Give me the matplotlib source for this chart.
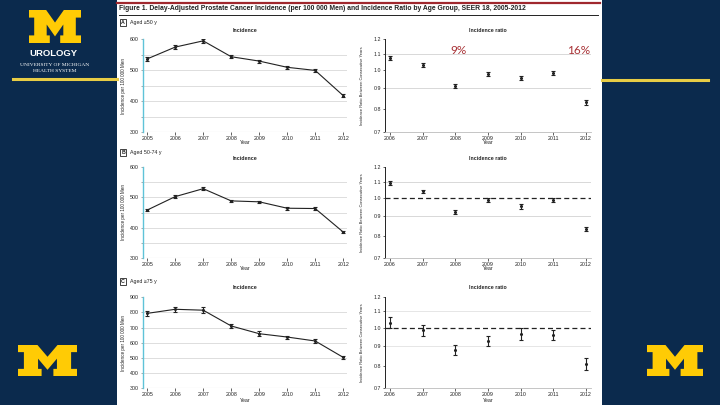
import matplotlib
matplotlib.use("Agg")
import matplotlib.pyplot as plt
from matplotlib.patches import Rectangle, Polygon
from matplotlib.lines import Line2D
from matplotlib.ticker import FixedLocator, NullLocator, FixedFormatter

# ---------------- data ----------------
years = [2005, 2006, 2007, 2008, 2009, 2010, 2011, 2012]
ratio_years = [2006, 2007, 2008, 2009, 2010, 2011, 2012]

inc_A = [536, 574, 594, 543, 529, 509, 499, 418]
inc_err_A = [6, 6, 6, 5, 5, 5, 5, 5]
ratio_A = [1.075, 1.032, 0.914, 0.977, 0.958, 0.984, 0.830]
ratio_err_A = [0.012, 0.012, 0.011, 0.011, 0.011, 0.011, 0.011]

inc_B = [458, 502, 528, 488, 485, 464, 463, 386]
inc_err_B = [4, 4, 4, 4, 4, 5, 4, 3]
ratio_B = [1.092, 1.040, 0.920, 0.990, 0.952, 0.990, 0.832]
ratio_err_B = [0.013, 0.012, 0.011, 0.011, 0.012, 0.011, 0.011]

inc_C = [794, 821, 815, 711, 660, 638, 612, 504]
inc_err_C = [18, 18, 20, 15, 15, 10, 14, 10]
ratio_C = [1.030, 0.986, 0.877, 0.926, 0.964, 0.958, 0.808]
ratio_err_C = [0.034, 0.032, 0.026, 0.029, 0.032, 0.029, 0.030]

panel_letters = ["A", "B", "C"]
panel_names = ["Aged \u226550 y", "Aged 50-74 y", "Aged \u226575 y"]
drop_labels = ["9%", "16%"]
drop_label_x = [2008.1, 2011.78]

title = ("Figure 1. Delay-Adjusted Prostate Cancer Incidence (per 100 000 Men) "
         "and Incidence Ratio by Age Group, SEER 18, 2005-2012")

# ---------------- figure ----------------
NAVY = "#0B2A4D"
GOLD = "#FFCB05"
W, H = 720, 405
fig = plt.figure(figsize=(7.2, 4.05), dpi=100, facecolor=NAVY)
FONT = ["Liberation Sans", "DejaVu Sans"]


def fx(x):
    return x / W


def fy(y):
    return 1 - y / H


# white panel
fig.patches.append(Rectangle((fx(117), 0), (602 - 117) / W, 1, transform=fig.transFigure,
                             facecolor="white", edgecolor="none", zorder=-5))
# top red rule and black rule
fig.add_artist(Line2D([fx(117), fx(600)], [fy(2.5), fy(2.5)], color="#A0282E", lw=1.6))
fig.add_artist(Line2D([fx(119), fx(598)], [fy(14.5), fy(14.5)], color="#222222", lw=0.7))
fig.text(fx(119), fy(8.5), title, fontsize=4.85, fontweight="bold", family=FONT,
         ha="left", va="center", color="#222222")

# gold rules on the sides
fig.add_artist(Line2D([fx(13), fx(117)], [fy(79), fy(79)], color="#E8CC45", lw=2.2))
fig.add_artist(Line2D([fx(602), fx(708)], [fy(80), fy(80)], color="#E8CC45", lw=2.2))

# block M logos
M_shape = [(0, 1), (0.33, 1), (0.5, 0.62), (0.67, 1), (1, 1), (1, 0.77), (0.9, 0.77),
           (0.9, 0.23), (1, 0.23), (1, 0), (0.6, 0), (0.6, 0.23), (0.66, 0.23),
           (0.66, 0.56), (0.5, 0.2), (0.34, 0.56), (0.34, 0.23), (0.4, 0.23), (0.4, 0),
           (0, 0), (0, 0.23), (0.1, 0.23), (0.1, 0.77), (0, 0.77)]


def block_m(x0, y0, x1, y1):
    pts = [(fx(x0 + u * (x1 - x0)), fy(y1 - v * (y1 - y0))) for u, v in M_shape]
    fig.patches.append(Polygon(pts, closed=True, transform=fig.transFigure,
                               facecolor=GOLD, edgecolor="none", zorder=-4))


block_m(29, 10, 81, 43)
block_m(18, 345, 77, 376)
block_m(647, 345, 703, 376)
fig.text(fx(53), fy(54), "UROLOGY", fontsize=6.8, fontweight="bold", color="white",
         family=FONT, ha="center", va="center")
fig.text(fx(55), fy(65), "UNIVERSITY OF MICHIGAN", fontsize=3.9, color="white",
         family=["Liberation Serif", "DejaVu Serif"], ha="center", va="center")
fig.text(fx(55), fy(71.5), "HEALTH SYSTEM", fontsize=3.9, color="white",
         family=["Liberation Serif", "DejaVu Serif"], ha="center", va="center")

# ---------------- axes layout ----------------
left_x0, left_w = 143, 204.4
right_x0, right_w = 385.1, 205.8
rows = [  # (top_left, bottom_left, top_right, bottom_right)
    (39.0, 132.3, 39.0, 131.7),
    (166.7, 258.3, 167.3, 258.3),
    (297.3, 388.3, 296.7, 388.3),
]
inc_data = [(inc_A, inc_err_A), (inc_B, inc_err_B), (inc_C, inc_err_C)]
ratio_data = [(ratio_A, ratio_err_A), (ratio_B, ratio_err_B), (ratio_C, ratio_err_C)]
ylims = [(300, 600), (300, 600), (300, 900)]
label_rows = [22.5, 152.5, 281.5]
sub_title_rows = [30, 158.3, 287.3]
year_rows = [142.5, 268.5, 401]

TICK_FS = 3.8
DARK = "#222222"
GRID = "#d8d8d8"

for i in range(3):
    tl, bl, tr, br = rows[i]
    # --- incidence ---
    ax = fig.add_axes([fx(left_x0), fy(bl), left_w / W, (bl - tl) / H])
    vals, errs = inc_data[i]
    lo, hi = ylims[i]
    step = 50 if hi - lo <= 300 else 100
    minor = list(range(lo, hi + 1, step))
    ax.set_ylim(lo, hi)
    ax.set_xlim(2004.85, 2012.15)
    for v in minor:
        if v not in (lo, hi):
            ax.axhline(v, color=GRID, lw=0.6, zorder=0)
    ax.axhline(lo, color=GRID, lw=0.8, zorder=0)
    ax.errorbar(years, vals, yerr=errs, fmt="-", color=DARK, lw=0.8,
                elinewidth=0.8, capsize=1.6, capthick=0.8, zorder=3)
    ax.plot(years, vals, "o", color=DARK, ms=1.2, zorder=4)
    ax.yaxis.set_major_locator(FixedLocator(minor))
    ax.yaxis.set_major_formatter(FixedFormatter([str(v) if v % 100 == 0 else "" for v in minor]))
    ax.set_xticks(years)
    ax.set_xticklabels([str(y) for y in years])
    for s in ("top", "right"):
        ax.spines[s].set_visible(False)
    ax.spines["bottom"].set_visible(False)
    ax.spines["left"].set_color("#5fc3d8")
    ax.spines["left"].set_linewidth(1.0)
    ax.tick_params(axis="both", labelsize=TICK_FS, length=1.8, width=0.5,
                   colors=DARK, pad=1.2)
    ax.tick_params(axis="y", colors="#888888", labelcolor=DARK)
    for lab in ax.get_xticklabels() + ax.get_yticklabels():
        lab.set_family(FONT)
    ax.patch.set_alpha(0)
    fig.text(fx(123), fy((tl + bl) / 2), "Incidence per 100 000 Men", rotation=90,
             fontsize=3.3, family=FONT, ha="center", va="center", color=DARK)
    fig.text(fx(245), fy(sub_title_rows[i]), "Incidence", fontsize=3.8, fontweight="bold",
             family=FONT, ha="center", va="center", color=DARK)
    fig.text(fx(245), fy(year_rows[i]), "Year", fontsize=3.8,
             family=FONT, ha="center", va="center", color=DARK)
    fig.text(fx(488), fy(year_rows[i]), "Year", fontsize=3.8,
             family=FONT, ha="center", va="center", color=DARK)

    # panel label
    fig.text(fx(123), fy(label_rows[i]), panel_letters[i], fontsize=3.8, fontweight="bold",
             family=FONT, ha="center", va="center", color=DARK,
             bbox=dict(boxstyle="square,pad=0.25", facecolor="white", edgecolor=DARK, lw=0.6))
    fig.text(fx(130), fy(label_rows[i]), panel_names[i], fontsize=3.8,
             family=FONT, ha="left", va="center", color=DARK)

    # --- ratio ---
    ax2 = fig.add_axes([fx(right_x0), fy(br), right_w / W, (br - tr) / H])
    rv, re = ratio_data[i]
    ax2.set_yscale("log")
    ax2.set_ylim(0.7, 1.2)
    ax2.set_xlim(2005.85, 2012.15)
    if i == 0:
        for g in (1.1, 0.9):
            ax2.axhline(g, color=GRID, lw=0.7, zorder=0)
    else:
        for g in (1.1, 0.9):
            ax2.axhline(g, color="#e6e6e6" if i == 2 else GRID, lw=0.7, zorder=0)
        ax2.axhline(1.0, color=DARK, lw=0.9, ls=(0, (4, 2.5)), zorder=2)
    ax2.errorbar(ratio_years, rv, yerr=re, fmt="o", color=DARK, ms=1.2,
                 elinewidth=0.8, capsize=1.6, capthick=0.8, zorder=3)
    rt = [0.7, 0.8, 0.9, 1.0, 1.1, 1.2]
    ax2.yaxis.set_major_locator(FixedLocator(rt))
    ax2.yaxis.set_major_formatter(FixedFormatter([f"{v:.1f}" for v in rt]))
    ax2.yaxis.set_minor_locator(NullLocator())
    ax2.set_xticks(ratio_years)
    ax2.set_xticklabels([str(y) for y in ratio_years])
    for s in ("top", "right"):
        ax2.spines[s].set_visible(False)
    ax2.spines["bottom"].set_color("#bbbbbb")
    ax2.spines["bottom"].set_linewidth(0.6)
    ax2.spines["left"].set_color(DARK)
    ax2.spines["left"].set_linewidth(0.7)
    ax2.tick_params(axis="both", labelsize=TICK_FS, length=1.8, width=0.5,
                    colors=DARK, pad=1.2)
    for lab in ax2.get_xticklabels() + ax2.get_yticklabels():
        lab.set_family(FONT)
    ax2.patch.set_alpha(0)
    fig.text(fx(362), fy((tr + br) / 2), "Incidence Ratio Between Consecutive Years",
             rotation=90, fontsize=2.9, family=FONT, ha="center", va="center", color=DARK)
    fig.text(fx(488), fy(sub_title_rows[i]), "Incidence ratio", fontsize=3.8,
             fontweight="bold", family=FONT, ha="center", va="center", color=DARK)

    if i == 0:
        for xpos, txt in zip(drop_label_x, drop_labels):
            ax2.text(xpos, 1.12, txt, fontsize=8.5,
                     color="#A83236", family=["Lato", "DejaVu Sans"],
                     ha="center", va="center")

fig.savefig("out.png", dpi=100, facecolor=NAVY)
